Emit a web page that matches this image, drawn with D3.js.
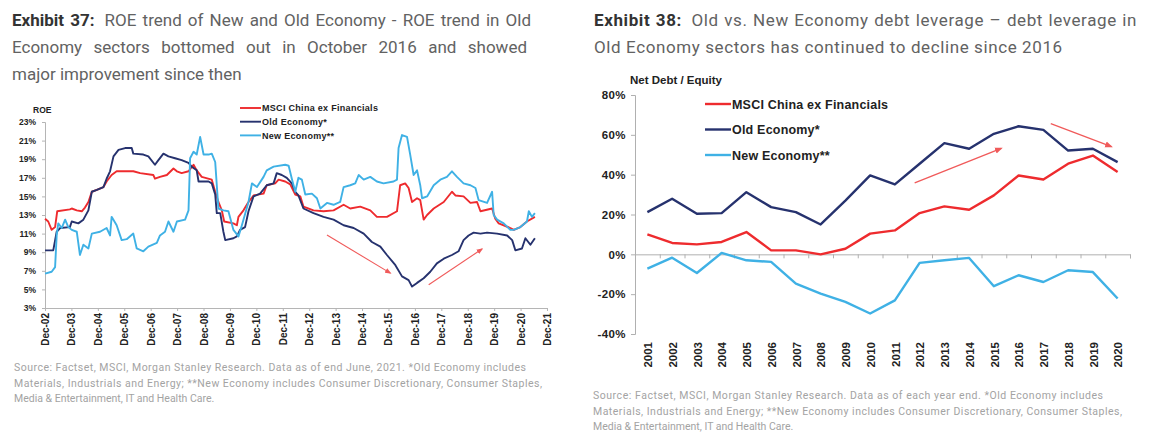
<!DOCTYPE html>
<html>
<head>
<meta charset="utf-8" />
<title>Exhibit 37 / 38 - Old vs New Economy</title>
<script src="https://cdn.jsdelivr.net/npm/d3@7"></script>
<style>
	body { margin: 0; background: #fff; }
	svg { display: block; font-family: Roboto, "Liberation Sans", Arial, sans-serif; }
</style>
</head>
<body>
<svg id="chart" width="1153" height="442"></svg>

<script>
// ---- Exhibit 37 : ROE (decimal years, % values) ----
const roeTickLabels = ["Dec-02","Dec-03","Dec-04","Dec-05","Dec-06","Dec-07","Dec-08","Dec-09","Dec-10","Dec-11",
	"Dec-12","Dec-13","Dec-14","Dec-15","Dec-16","Dec-17","Dec-18","Dec-19","Dec-20","Dec-21"];
const roeYTicks = [3, 5, 7, 9, 11, 13, 15, 17, 19, 21, 23];
const roeSeriesNames = ["MSCI China ex Financials", "Old Economy*", "New Economy**"];

const msciRoeDates = [2002.96,2003.08,2003.21,2003.34,2003.42,2003.90,2003.97,2004.16,2004.35,2004.47,2004.60,2004.73,2004.92,2005.17,2005.29,2005.48,2005.67,2006.30,2006.56,2007.06,2007.12,2007.31,2007.57,2007.82,2007.95,2008.13,2008.39,2008.58,2008.70,2008.89,2009.27,2009.40,2009.52,2009.65,2009.74,2010.09,2010.22,2010.28,2010.47,2010.66,2010.85,2011.23,2011.35,2011.67,2011.80,2012.05,2012.24,2012.43,2012.62,2012.74,2013.12,2013.50,2013.88,2014.26,2014.51,2014.89,2015.27,2015.52,2015.90,2016.28,2016.40,2016.59,2016.72,2016.85,2017.04,2017.16,2017.29,2017.42,2017.67,2018.05,2018.36,2018.49,2018.80,2019.06,2019.31,2019.44,2019.88,2020.00,2020.13,2020.57,2020.70,2020.95,2021.20,2021.50];
const msciRoeValues = [12.6,12.3,11.4,11.7,13.4,13.6,13.7,13.5,13.4,13.8,14.4,15.5,15.7,16.0,16.6,17.3,17.7,17.7,17.5,17.3,16.9,17.1,17.3,18.0,17.7,17.5,17.7,18.4,17.8,17.1,16.8,15.5,14.4,13.5,12.3,12.1,11.9,12.8,13.5,14.4,15.1,15.3,16.2,16.4,16.8,16.6,16.3,15.2,15.0,13.9,13.5,13.4,13.5,14.1,13.7,13.9,13.5,12.8,12.8,13.4,16.2,16.4,15.9,14.4,14.8,14.6,12.5,13.0,13.7,14.4,15.5,15.1,15.0,14.3,14.4,13.4,13.7,12.6,12.1,11.6,11.4,11.7,12.3,12.8];

const oldRoeDates = [2002.96,2003.27,2003.40,2003.53,2003.90,2003.97,2004.22,2004.41,2004.60,2004.73,2004.92,2005.17,2005.29,2005.42,2005.55,2005.74,2005.99,2006.24,2006.30,2006.68,2006.87,2007.12,2007.25,2007.44,2007.63,2007.88,2008.13,2008.39,2008.51,2008.70,2008.77,2009.15,2009.27,2009.40,2009.46,2009.59,2009.71,2009.78,2010.09,2010.22,2010.34,2010.53,2010.66,2010.85,2011.10,2011.35,2011.61,2011.73,2011.92,2012.11,2012.30,2012.43,2012.55,2012.74,2013.12,2013.50,2013.88,2014.26,2014.64,2015.02,2015.33,2015.65,2015.90,2016.22,2016.47,2016.72,2016.85,2017.04,2017.29,2017.54,2017.79,2018.05,2018.36,2018.61,2018.80,2018.99,2019.18,2019.44,2019.69,2020.07,2020.45,2020.64,2020.76,2021.01,2021.14,2021.33,2021.50];
const oldRoeValues = [9.2,9.2,11.2,11.6,11.7,12.3,12.1,12.5,13.5,15.5,15.7,16.0,16.9,17.7,19.3,20.0,20.2,20.2,19.6,19.5,19.3,18.4,18.9,19.6,19.3,19.1,18.9,18.6,18.2,17.8,16.6,16.6,16.4,15.2,13.2,13.2,11.2,10.3,10.5,10.7,11.4,11.7,13.4,15.0,15.3,16.2,16.4,17.5,17.3,17.0,16.4,15.5,15.1,13.7,13.2,12.8,12.5,11.9,11.6,11.0,10.1,9.6,8.7,7.6,6.4,6.0,5.3,5.7,6.2,6.9,7.8,8.3,8.7,9.1,10.3,10.8,11.1,11.0,11.1,11.0,10.8,10.3,9.2,9.4,10.5,9.8,10.5];

const newRoeDates = [2002.96,2003.21,2003.34,2003.40,2003.46,2003.59,2003.72,2003.84,2003.97,2004.16,2004.28,2004.41,2004.60,2004.73,2005.04,2005.29,2005.42,2005.48,2005.67,2005.86,2006.05,2006.30,2006.43,2006.68,2006.87,2007.19,2007.31,2007.50,2007.63,2007.82,2007.95,2008.26,2008.39,2008.45,2008.58,2008.70,2008.83,2008.96,2009.15,2009.27,2009.40,2009.52,2009.71,2009.90,2010.09,2010.28,2010.41,2010.66,2010.79,2010.98,2011.23,2011.35,2011.61,2012.05,2012.18,2012.30,2012.43,2012.55,2012.68,2012.81,2013.06,2013.25,2013.38,2013.63,2013.88,2014.13,2014.26,2014.51,2014.70,2014.83,2015.02,2015.27,2015.52,2015.77,2016.15,2016.28,2016.34,2016.47,2016.66,2016.78,2016.91,2017.04,2017.16,2017.23,2017.42,2017.67,2017.92,2018.17,2018.36,2018.55,2018.80,2019.06,2019.25,2019.37,2019.69,2019.88,2019.94,2020.07,2020.32,2020.57,2020.70,2020.95,2021.20,2021.27,2021.39,2021.50];
const newRoeValues = [6.7,6.9,7.4,10.8,12.1,11.6,12.5,11.7,11.4,11.2,8.7,9.8,9.4,11.0,11.2,11.6,10.8,12.8,11.9,10.3,10.4,11.0,9.4,9.1,9.6,10.0,10.8,11.2,12.3,11.2,12.3,12.5,13.5,19.1,19.8,19.5,21.4,19.5,19.5,19.6,18.7,13.7,13.5,13.4,11.4,10.7,11.9,14.4,16.4,16.0,17.1,17.8,18.2,18.4,18.3,16.9,15.5,17.0,16.8,15.2,15.3,14.8,13.7,14.3,14.1,14.4,16.0,16.2,16.4,17.3,16.8,17.1,16.6,16.4,16.6,16.8,20.2,21.6,21.4,19.5,17.3,17.8,16.2,14.8,15.0,16.2,16.8,17.1,17.7,17.1,16.4,16.2,15.9,14.6,14.3,15.5,13.0,12.5,12.1,11.4,11.4,11.7,12.3,13.4,12.8,13.2];

// annotation arrows, [year, roe] start -> end
const roeArrows = [[[2013.63, 10.85], [2016.03, 6.75]], [[2017.48, 5.5], [2019.5, 9.35]]];

// ---- Exhibit 38 : Net debt / equity ----
const debtYears = [2001,2002,2003,2004,2005,2006,2007,2008,2009,2010,2011,2012,2013,2014,2015,2016,2017,2018,2019,2020];
const debtYTicks = [-40, -20, 0, 20, 40, 60, 80];
const msciDebt = [10.0,5.7,5.0,6.2,11.2,2.0,2.0,0.0,2.8,10.4,12.0,20.7,24.1,22.4,29.6,39.6,37.6,45.5,49.6,41.3];
const oldDebt  = [21.2,27.9,20.4,20.7,31.2,23.7,21.2,15.0,27.0,39.6,35.1,45.5,55.8,53.0,60.5,64.3,62.5,52.1,53.0,46.3];
const newDebt  = [-7.2,-1.7,-9.4,0.7,-3.0,-3.8,-14.7,-19.7,-23.9,-29.7,-23.1,-4.3,-3.0,-1.8,-16.0,-10.5,-13.9,-8.0,-8.9,-22.2];
const debtArrows = [[[2011.8, 35.9], [2015.3, 53.2]], [[2017.3, 65.6], [2019.75, 54.1]]];

const colors = ["#ee2b2e", "#26326e", "#3fb1e5"];

const svg = d3.select("#chart");

// arrow marker
svg.append("defs").append("marker")
	.attr("id", "arrowHead").attr("viewBox", "0 0 10 10")
	.attr("refX", 8).attr("refY", 5)
	.attr("markerWidth", 6).attr("markerHeight", 6)
	.attr("orient", "auto")
	.append("path").attr("d", "M0,1 L10,5 L0,9 Z").attr("fill", "#f05a5a");

// justify a text line to a width by widening word gaps
function justify(sel, width) {
	const node = sel.node();
	const len = node.getComputedTextLength();
	const spaces = (node.textContent.match(/ /g) || []).length;
	if (spaces) sel.attr("word-spacing", (width - len) / spaces);
}

function title(x, lines, exhibit, width, justifyCount, spacing) {
	lines.forEach(function(line, i) {
		const t = svg.append("text").attr("x", x).attr("y", 26 + i * 27)
			.style("font-size", "17px").style("letter-spacing", spacing + "px").attr("fill", "#626262");
		if (i === 0) {
			t.append("tspan").attr("font-weight", "bold").attr("fill", "#333").text(exhibit);
			t.append("tspan").attr("dx", 4).text(" " + line);
		} else {
			t.text(line);
		}
		if (i < justifyCount) justify(t, width);
	});
}

function source(x, y, lines, widths) {
	lines.forEach(function(line, i) {
		const t = svg.append("text").attr("x", x).attr("y", y + i * 15.5)
			.style("font-size", "10.5px").attr("fill", "#a3a3a3").text(line);
		if (widths[i]) t.attr("textLength", widths[i]).attr("lengthAdjust", "spacing");
	});
}

// ================= Exhibit 37 =================
title(12, ["ROE trend of New and Old Economy - ROE trend in Old",
	"Economy sectors bottomed out in October 2016 and showed",
	"major improvement since then"], "Exhibit 37:", 515, 2, 0);

const xL = d3.scaleLinear().domain([2002.958, 2021.958]).range([45, 547]);
const yL = d3.scaleLinear().domain([3, 23]).range([308, 122]);

const gxL = svg.append("g").attr("transform", "translate(0,308)")
	.call(d3.axisBottom(xL)
		.tickValues(roeTickLabels.map(function(d, i) { return 2002.958 + i; }))
		.tickFormat(function(d, i) { return roeTickLabels[i]; })
		.tickSizeOuter(0).tickSize(3));
gxL.selectAll("text")
	.attr("transform", "rotate(-90)").attr("x", -5).attr("y", 0).attr("dy", "0.35em")
	.style("text-anchor", "end").style("font-size", "10px").style("font-weight", "bold")
	.style("font-family", "'Liberation Sans', Arial, sans-serif").attr("fill", "#222");

const gyL = svg.append("g").attr("transform", "translate(45,0)")
	.call(d3.axisLeft(yL).tickValues(roeYTicks).tickFormat(function(d) { return d + "%"; })
		.tickSizeOuter(0).tickSize(3).tickPadding(6));
gyL.selectAll("text").style("font-size", "8.5px").style("font-weight", "bold")
	.style("font-family", "'Liberation Sans', Arial, sans-serif").attr("fill", "#222");

[gxL, gyL].forEach(function(g) {
	g.select(".domain").attr("stroke", "#b5b5b5");
	g.selectAll(".tick line").attr("stroke", "#b5b5b5");
});

svg.append("text").attr("x", 33).attr("y", 113).text("ROE")
	.style("font-size", "8.5px").style("font-weight", "bold")
	.style("font-family", "'Liberation Sans', Arial, sans-serif").attr("fill", "#222");

const roeSeries = [d3.zip(msciRoeDates, msciRoeValues), d3.zip(oldRoeDates, oldRoeValues), d3.zip(newRoeDates, newRoeValues)];
const lineL = d3.line().x(function(d) { return xL(d[0]); }).y(function(d) { return yL(d[1]); });

svg.append("g").selectAll("path").data(roeSeries).enter().append("path")
	.attr("d", lineL).attr("fill", "none")
	.attr("stroke", function(d, i) { return colors[i]; })
	.attr("stroke-width", 1.9).attr("stroke-linejoin", "round");

svg.append("g").selectAll("line").data(roeArrows).enter().append("line")
	.attr("x1", function(d) { return xL(d[0][0]); }).attr("y1", function(d) { return yL(d[0][1]); })
	.attr("x2", function(d) { return xL(d[1][0]); }).attr("y2", function(d) { return yL(d[1][1]); })
	.attr("stroke", "#f05a5a").attr("stroke-width", 1.1).attr("marker-end", "url(#arrowHead)");

const legL = svg.append("g").selectAll("g").data(roeSeriesNames).enter().append("g")
	.attr("transform", function(d, i) { return "translate(240," + (108 + i * 13.7) + ")"; });
legL.append("line").attr("x1", 0).attr("x2", 21)
	.attr("stroke", function(d, i) { return colors[i]; }).attr("stroke-width", 1.9);
legL.append("text").attr("x", 22).attr("dy", "0.35em").text(function(d) { return d; })
	.style("font-size", "9px").style("font-weight", "bold").style("letter-spacing", "0.3px")
	.style("font-family", "'Liberation Sans', Arial, sans-serif").attr("fill", "#222");

source(14, 371, ["Source: Factset, MSCI, Morgan Stanley Research. Data as of end June, 2021. *Old Economy includes",
	"Materials, Industrials and Energy; **New Economy includes Consumer Discretionary, Consumer Staples,",
	"Media & Entertainment, IT and Health Care."], [512, 528, 0]);

// ================= Exhibit 38 =================
title(594, ["Old vs. New Economy debt leverage \u2013 debt leverage in",
	"Old Economy sectors has continued to decline since 2016"], "Exhibit 38:", 539, 1, 0.6);

const xR = d3.scalePoint().domain(debtYears).range([635, 1130]).padding(0.5);
const stepR = xR.step();
const xEdge = d3.scaleLinear().domain([0, debtYears.length]).range([635, 1130]);
const yR = d3.scaleLinear().domain([-40, 80]).range([334, 95]);
const xYear = function(yr) { return xR(debtYears[0]) + (yr - debtYears[0]) * stepR; };

const gyR = svg.append("g").attr("transform", "translate(635,0)")
	.call(d3.axisLeft(yR).tickValues(debtYTicks).tickFormat(function(d) { return d + "%"; })
		.tickSizeOuter(0).tickSize(4).tickPadding(5));
gyR.selectAll("text").style("font-size", "11.5px").style("font-weight", "bold")
	.style("letter-spacing", "0.4px")
	.style("font-family", "'Liberation Sans', Arial, sans-serif").attr("fill", "#222");

const gxR = svg.append("g").attr("transform", "translate(0," + yR(0) + ")")
	.call(d3.axisBottom(xEdge).tickValues(d3.range(0, debtYears.length + 1)).tickFormat("")
		.tickSizeOuter(0).tickSize(4));

[gxR, gyR].forEach(function(g) {
	g.select(".domain").attr("stroke", "#b0b0b0");
	g.selectAll(".tick line").attr("stroke", "#b0b0b0");
});

const gxLab = svg.append("g").attr("transform", "translate(0,337)")
	.call(d3.axisBottom(xR).tickSize(0));
gxLab.select(".domain").remove();
gxLab.selectAll("text")
	.attr("transform", "rotate(-90)").attr("x", -5).attr("y", 0).attr("dy", "0.36em")
	.style("text-anchor", "end").style("font-size", "11.5px").style("font-weight", "bold")
	.style("font-family", "'Liberation Sans', Arial, sans-serif").attr("fill", "#222");

svg.append("text").attr("x", 630).attr("y", 84).text("Net Debt / Equity")
	.style("font-size", "11.5px").style("font-weight", "bold")
	.style("font-family", "'Liberation Sans', Arial, sans-serif").attr("fill", "#222");

const debtSeries = [msciDebt, oldDebt, newDebt];
const lineR = d3.line().x(function(d, i) { return xR(debtYears[i]); }).y(function(d) { return yR(d); });

svg.append("g").selectAll("path").data(debtSeries).enter().append("path")
	.attr("d", lineR).attr("fill", "none")
	.attr("stroke", function(d, i) { return colors[i]; })
	.attr("stroke-width", 2.4).attr("stroke-linejoin", "round");

svg.append("g").selectAll("line").data(debtArrows).enter().append("line")
	.attr("x1", function(d) { return xYear(d[0][0]); }).attr("y1", function(d) { return yR(d[0][1]); })
	.attr("x2", function(d) { return xYear(d[1][0]); }).attr("y2", function(d) { return yR(d[1][1]); })
	.attr("stroke", "#f05a5a").attr("stroke-width", 1.3).attr("marker-end", "url(#arrowHead)");

const legR = svg.append("g").selectAll("g").data(roeSeriesNames).enter().append("g")
	.attr("transform", function(d, i) { return "translate(705," + (104 + i * 25.5) + ")"; });
legR.append("line").attr("x1", 0).attr("x2", 26)
	.attr("stroke", function(d, i) { return colors[i]; }).attr("stroke-width", 2.4);
legR.append("text").attr("x", 27).attr("dy", "0.36em").text(function(d) { return d; })
	.style("font-size", "12.5px").style("font-weight", "bold").style("letter-spacing", "0.2px")
	.style("font-family", "'Liberation Sans', Arial, sans-serif").attr("fill", "#222");

source(593, 399, ["Source: Factset, MSCI, Morgan Stanley Research. Data as of each year end. *Old Economy includes",
	"Materials, Industrials and Energy; **New Economy includes Consumer Discretionary, Consumer Staples,",
	"Media & Entertainment, IT and Health Care."], [510, 529, 0]);
</script>
</body>
</html>
